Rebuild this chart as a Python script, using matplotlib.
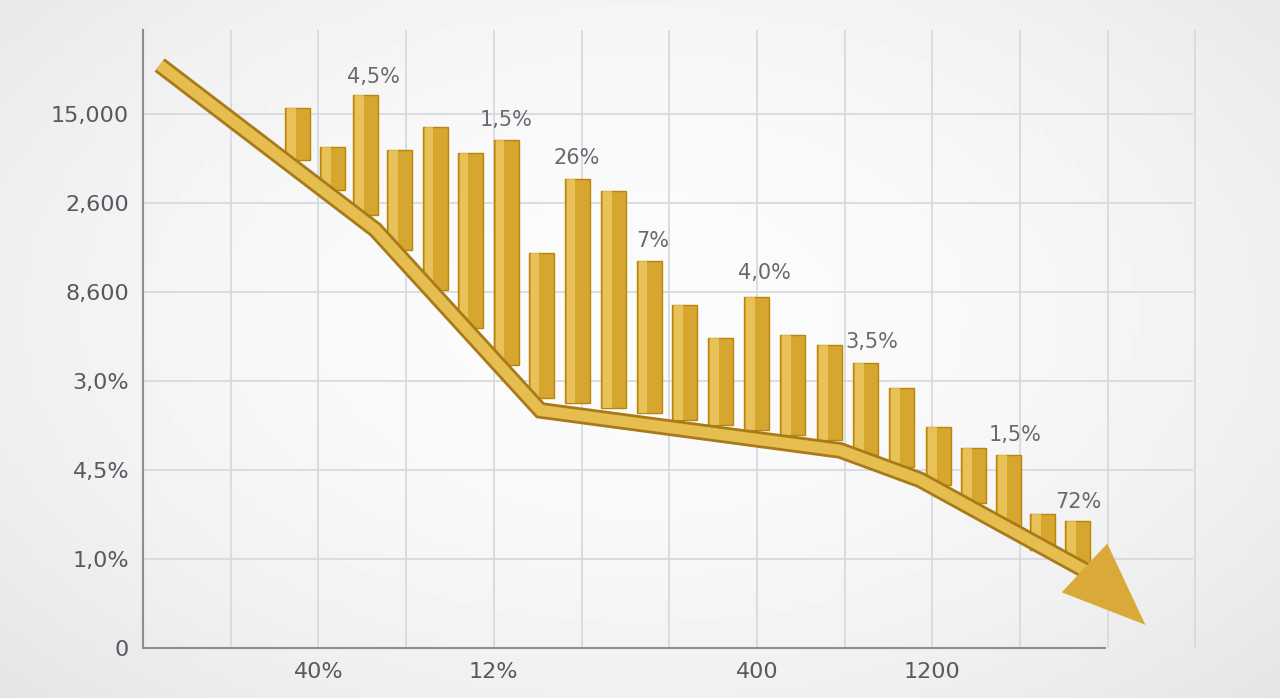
import numpy as np
import matplotlib
matplotlib.use("Agg")
import matplotlib.pyplot as plt

ytick_labels = ["0", "1,0%", "4,5%", "3,0%", "8,600", "2,600", "15,000"]
ytick_pos = [0, 1, 2, 3, 4, 5, 6]
xtick_labels = ["40%", "12%", "400", "1200"]
xtick_pos = [2, 4, 7, 9]

bar_x = [1.76, 2.16, 2.54, 2.93, 3.33, 3.73, 4.14, 4.54, 4.95, 5.37, 5.77, 6.18,
         6.59, 7.00, 7.41, 7.83, 8.24, 8.65, 9.07, 9.47, 9.87, 10.26, 10.66]
bar_top = [6.07, 5.63, 6.21, 5.60, 5.85, 5.56, 5.71, 4.44, 5.27, 5.13, 4.35, 3.85,
           3.48, 3.94, 3.52, 3.40, 3.20, 2.92, 2.48, 2.25, 2.17, 1.51, 1.43]
bar_bottom = [5.48, 5.15, 4.87, 4.47, 4.02, 3.60, 3.18, 2.81, 2.75, 2.70, 2.64, 2.56,
              2.51, 2.45, 2.39, 2.34, 2.17, 2.03, 1.83, 1.63, 1.33, 1.10, 0.90]

trend_x = [0.19, 2.65, 4.53, 7.95, 8.86, 10.80]
trend_y = [6.55, 4.70, 2.67, 2.22, 1.89, 0.84]
arrow_tip = (11.43, 0.26)

ann_text = ["4,5%", "1,5%", "26%", "7%", "4,0%", "3,5%", "1,5%", "72%"]
ann_x = [2.63, 4.14, 4.95, 5.81, 7.09, 8.31, 9.95, 10.66]
ann_y = [6.42, 5.93, 5.51, 4.57, 4.21, 3.44, 2.39, 1.64]

W, H = 1280, 698
fig = plt.figure(figsize=(W/100, H/100), dpi=100)
bg = fig.add_axes([0, 0, 1, 1])
yy, xx = np.mgrid[0:1:200j, 0:1:200j]
r = np.sqrt(((xx-0.5)/0.7)**2 + ((yy-0.45)/0.8)**2)
bg.imshow(0.985 - 0.09*r**2, cmap="gray", vmin=0, vmax=1, aspect="auto", extent=[0, 1, 0, 1])
bg.axis("off")

ax = fig.add_axes([143/W, 50/H, (W-143)/W, (648-20)/H])
ax.patch.set_alpha(0)
ax.set_xlim(0, (W-143)/87.7)
ax.set_ylim(0, 628/89)
top = 618/89
gx = np.arange(1, 12.5, 1)
ax.vlines(gx, 0, top, color="#d5d8dc", lw=1.2, zorder=0)
ax.hlines(ytick_pos[1:], 0, 11.97, color="#d5d8dc", lw=1.2, zorder=0)
for s in ["top", "right"]:
    ax.spines[s].set_visible(False)
ax.spines["left"].set_bounds(0, top)
ax.spines["bottom"].set_bounds(0, 10.97)
for s in ["left", "bottom"]:
    ax.spines[s].set_color("#8a8f96")
    ax.spines[s].set_linewidth(1.5)
ax.set_yticks(ytick_pos, ytick_labels)
ax.set_xticks(xtick_pos, xtick_labels)
ax.tick_params(length=0, labelsize=16, colors="#555a60", pad=10)

heights = np.array(bar_top) - np.array(bar_bottom)
ax.bar(bar_x, heights, bottom=bar_bottom, width=0.285, color="#d6a62f",
       edgecolor="#b8860b", linewidth=1, zorder=3)
ax.bar(np.array(bar_x)-0.07, heights, bottom=bar_bottom, width=0.1, color="#f0cd6a",
       linewidth=0, zorder=4, alpha=0.7)

ax.plot(trend_x, trend_y, color="#a87a1a", lw=12, solid_capstyle="butt", solid_joinstyle="miter", zorder=5)
ax.plot(trend_x, trend_y, color="#e6bd4f", lw=8, solid_capstyle="butt", solid_joinstyle="miter", zorder=6)
ax.annotate("", xy=arrow_tip, xytext=(trend_x[-1], trend_y[-1]),
            arrowprops=dict(arrowstyle="-|>,head_length=1.5,head_width=0.6", mutation_scale=40,
                            color="#d9a93a", lw=0, shrinkA=0, shrinkB=0), zorder=7)

for t, x, y in zip(ann_text, ann_x, ann_y):
    ax.text(x, y, t, ha="center", va="center", fontsize=15, color="#666a70", zorder=8)

fig.savefig("out.png", dpi=100)
